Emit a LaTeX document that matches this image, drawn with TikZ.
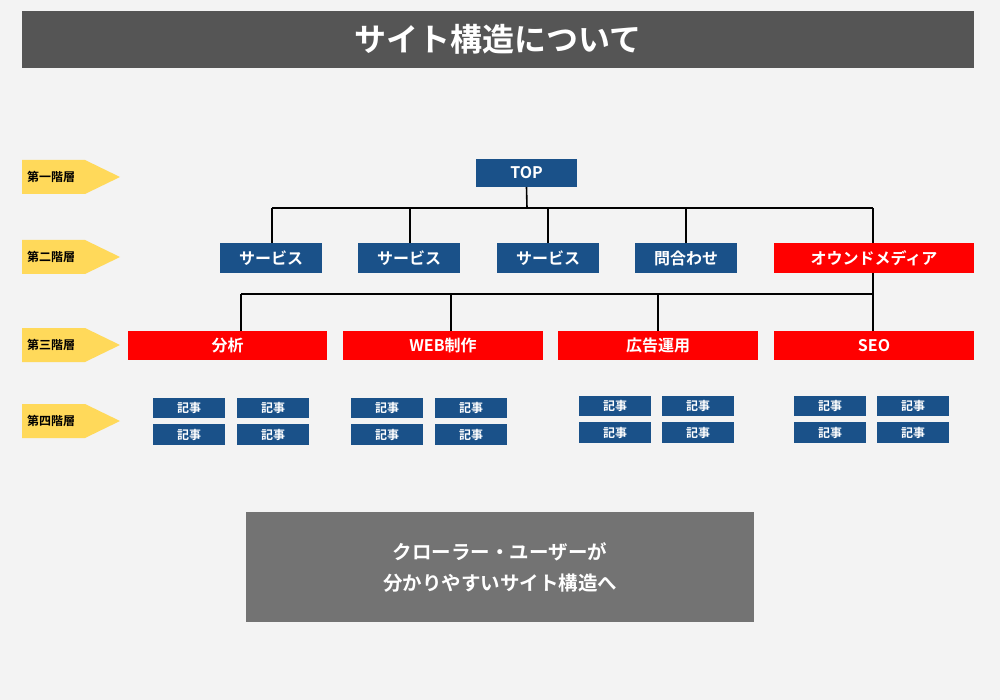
\documentclass[tikz,border=0pt]{standalone}
\usepackage{fontspec}
\setmainfont{Noto Sans CJK JP}[BoldFont={* Bold}]
\definecolor{bg}{HTML}{F3F3F3}
\definecolor{ttl}{HTML}{555555}
\definecolor{navy}{HTML}{1A5189}
\definecolor{rd}{HTML}{FF0000}
\definecolor{yl}{HTML}{FFD95A}
\definecolor{gr}{HTML}{737373}
\tikzset{
 box/.style={inner sep=0pt,text=white,font=\bfseries\fontsize{16}{18}\selectfont},
 bbox/.style={box,fill=navy},
 rbox/.style={box,fill=rd},
 sbox/.style={box,fill=navy,minimum width=72pt,minimum height=20.5pt,font=\bfseries\fontsize{12}{14}\selectfont},
 ln/.style={line width=1.6pt,black}
}
\begin{document}
\begin{tikzpicture}[x=1pt,y=-1pt]
\fill[bg] (0,0) rectangle (1000,700);
\useasboundingbox (0,0) rectangle (1000,700);
\node[fill=ttl,minimum width=952pt,minimum height=57pt,inner sep=0pt,text=white,font=\bfseries\fontsize{32}{36}\selectfont] (title) at (498,39.5) {サイト構造について};
\foreach \n/\yy/\t in {l1/177/第一階層,l2/257/第二階層,l3/345/第三階層,l4/421/第四階層}{
 \fill[yl] (22,\yy-17) -- (85,\yy-17) -- (120,\yy) -- (85,\yy+17) -- (22,\yy+17) -- cycle;
 \node[font=\bfseries\fontsize{12}{14}\selectfont,anchor=west,inner sep=0pt] (\n) at (27,\yy) {\t};
}
\node[bbox,minimum width=101pt,minimum height=28pt] (top) at (526.5,173) {TOP};
\node[bbox,minimum width=102pt,minimum height=30pt] (s1) at (271,258) {サービス};
\node[bbox,minimum width=102pt,minimum height=30pt] (s2) at (409,258) {サービス};
\node[bbox,minimum width=102pt,minimum height=30pt] (s3) at (548,258) {サービス};
\node[bbox,minimum width=102pt,minimum height=30pt] (s4) at (686,258) {問合わせ};
\node[rbox,minimum width=200pt,minimum height=30pt] (s5) at (874,258) {オウンドメディア};
\node[rbox,minimum width=199pt,minimum height=29pt] (c1) at (227.5,345.5) {分析};
\node[rbox,minimum width=200pt,minimum height=29pt] (c2) at (443,345.5) {WEB制作};
\node[rbox,minimum width=200pt,minimum height=29pt] (c3) at (658,345.5) {広告運用};
\node[rbox,minimum width=200pt,minimum height=29pt] (c4) at (874,345.5) {SEO};
\coordinate (j1) at (527,208);
\draw[ln] (top.south) -- (j1);
\draw[ln] (272,208) -- (873,208);
\foreach \c/\xx in {s1/272,s2/410,s3/548,s4/686,s5/873}{\draw[ln] (\xx,208) -- (\xx,243);}
\coordinate (j2) at (873,294);
\draw[ln] (s5.south -| j2) -- (j2);
\draw[ln] (241,294) -- (873,294);
\foreach \c/\xx in {c1/241,c2/451,c3/658,c4/873}{\draw[ln] (\xx,294) -- (\xx,331);}
\foreach \i/\xa/\xb/\ya/\yb in {a/189/273/408/434.5,b/387/471/408/434.5,c/615/698/406/432.5,d/830/913/406/432.5}{
 \node[sbox] (\i1) at (\xa,\ya) {記事};
 \node[sbox] (\i2) at (\xb,\ya) {記事};
 \node[sbox] (\i3) at (\xa,\yb) {記事};
 \node[sbox] (\i4) at (\xb,\yb) {記事};
}
\node[fill=gr,minimum width=508pt,minimum height=110pt,inner sep=0pt,text=white,align=center,font=\bfseries\fontsize{19.5}{31}\selectfont] (msg) at (500,567) {クローラー・ユーザーが\\分かりやすいサイト構造へ};
\end{tikzpicture}
\end{document}
